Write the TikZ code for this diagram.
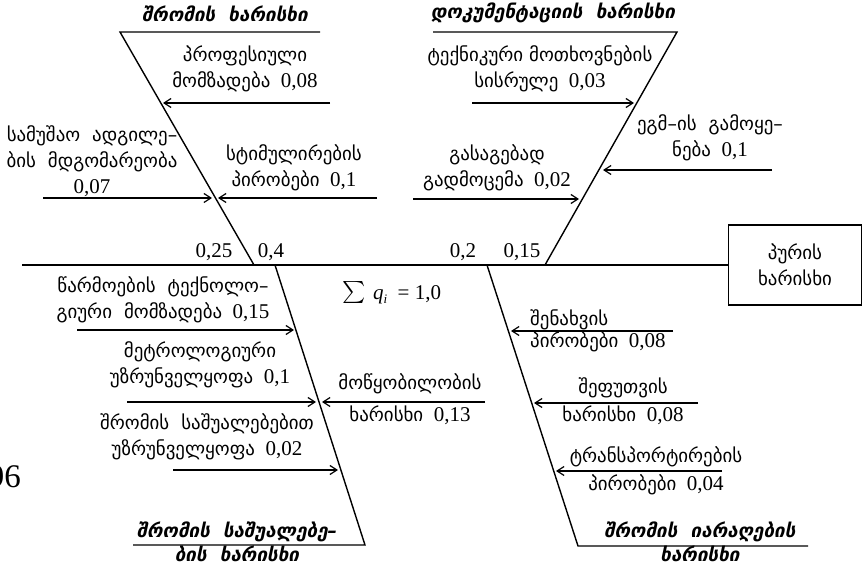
\documentclass[tikz,border=0pt]{standalone}
\usepackage{fontspec}
\setmainfont{Liberation Serif}
\newfontfamily\geo[Scale=0.9]{DejaVu Sans}
\newcommand\geot[1]{{\geo #1}}
\usetikzlibrary{arrows.meta}
\begin{document}
\begin{tikzpicture}[x=1pt,y=-1pt,
 bone/.style={line width=1.4pt},
 spine/.style={line width=2pt},
 rib/.style={line width=1.2pt,-{Straight Barb[length=7pt,width=9pt]}},
 txt/.style={font=\fontsize{21}{26}\selectfont, align=center, inner sep=0pt},
 ttl/.style={font=\geo\fontsize{21}{24}\selectfont\bfseries\itshape, align=center, inner sep=0pt}]
\useasboundingbox (0,0) rectangle (863,564);
% coordinates
\coordinate (S0) at (22,265);
\coordinate (ULt) at (120,32); \coordinate (ULb) at (254,265); \coordinate (ULr) at (320,32);
\coordinate (URt) at (677,32); \coordinate (URb) at (545,265); \coordinate (URl) at (433,32);
\coordinate (LLt) at (275,265); \coordinate (LLb) at (365,545); \coordinate (LLl) at (133,545);
\coordinate (LRt) at (487,265); \coordinate (LRb) at (578,546); \coordinate (LRr) at (808,546);
% box and spine
\node[txt, draw, line width=1.4pt, minimum width=133pt, minimum height=80pt] (B) at (795,265) {\geot{პურის}\\\geot{ხარისხი}};
\draw[spine] (S0) -- (B.west);
% bones
\draw[bone] (ULr) -- (ULt) -- (ULb);
\draw[bone] (URl) -- (URt) -- (URb);
\draw[bone] (LLt) -- (LLb) -- (LLl);
\draw[bone] (LRt) -- (LRb) -- (LRr);
% rib coordinates
\coordinate (a1s) at (330,103); \coordinate (a1e) at (163,103);
\coordinate (a2s) at (377,198); \coordinate (a2e) at (218,198);
\coordinate (a3s) at (43,198);  \coordinate (a3e) at (212,198);
\coordinate (b1s) at (472,103); \coordinate (b1e) at (634,103);
\coordinate (b2s) at (772,170); \coordinate (b2e) at (603,170);
\coordinate (b3s) at (413,199); \coordinate (b3e) at (579,199);
\coordinate (c1s) at (77,330);  \coordinate (c1e) at (294,330);
\coordinate (c2s) at (127,402); \coordinate (c2e) at (316,402);
\coordinate (c3s) at (485,402); \coordinate (c3e) at (322,402);
\coordinate (c4s) at (173,470); \coordinate (c4e) at (338,470);
\coordinate (d1s) at (673,331); \coordinate (d1e) at (511,331);
\coordinate (d2s) at (698,403); \coordinate (d2e) at (534,403);
\coordinate (d3s) at (722,471); \coordinate (d3e) at (556,471);
\foreach \r in {a1,a2,a3,b1,b2,b3,c1,c2,c3,c4,d1,d2,d3}{\draw[rib] (\r s) -- (\r e);}
% titles
\node[ttl] (T1) at (225,14) {შრომის~~ხარისხი};
\node[ttl] (T2) at (553,13) {დოკუმენტაციის~~ხარისხი};
\node[ttl] (T3) at (237,542) {შრომის~~საშუალებე–\\ბის~~ხარისხი};
\node[ttl] (T4) at (700,542) {შრომის~~იარაღების\\ხარისხი};
% labels
\node[txt] (L1) at (245,69) {\geot{პროფესიული}\\\geot{მომზადება}~~0,08};
\node[txt] (L2) at (294,168) {\geot{სტიმულირების}\\\geot{პირობები}~~0,1};
\node[txt] (L3) at (92,161) {\geot{სამუშაო~~ადგილე–}\\\geot{ბის~~მდგომარეობა}\\0,07};
\node[txt] (L4) at (540,69) {\geot{ტექნიკური~მოთხოვნების}\\\geot{სისრულე}~~0,03};
\node[txt] (L5) at (710,138) {\geot{ეგმ–ის~~გამოყე–}\\\geot{ნება}~~0,1};
\node[txt] (L6) at (497,168) {\geot{გასაგებად}\\\geot{გადმოცემა}~~0,02};
\node[txt] (L7) at (163,300) {\geot{წარმოების~~ტექნოლო–}\\\geot{გიური~~მომზადება}~~0,15};
\node[txt] (L8) at (200,365) {\geot{მეტროლოგიური}\\\geot{უზრუნველყოფა}~~0,1};
\node[txt] (L9) at (410,399) {\geot{მოწყობილობის}\\[6pt]\geot{ხარისხი}~~0,13};
\node[txt] (L10) at (207,437) {\geot{შრომის~~საშუალებებით}\\\geot{უზრუნველყოფა}~~0,02};
\node[txt, align=left, anchor=west] (L11) at (530,331) {\geot{შენახვის}\\[-4pt]\geot{პირობები}~~0,08};
\node[txt] (L12) at (623,401) {\geot{შეფუთვის}\\[2pt]\geot{ხარისხი}~~0,08};
\node[txt] (L13) at (656,471) {\geot{ტრანსპორტირების}\\[2pt]\geot{პირობები}~~0,04};
\node[txt] (N1) at (214,252) {0,25};
\node[txt] (N2) at (271,252) {0,4};
\node[txt] (N3) at (463,252) {0,2};
\node[txt] (N4) at (522,252) {0,15};
\node[txt] (SG) at (392,293) {\raisebox{-5pt}{\scalebox{2.2}{$\sum$}}\,\,\textit{q}\raisebox{-4pt}{\fontsize{13}{13}\selectfont\textit{i}}~~=~1,0};
\node[txt, font=\fontsize{33}{33}\selectfont, anchor=east] (P) at (21,477) {96};
\end{tikzpicture}
\end{document}
